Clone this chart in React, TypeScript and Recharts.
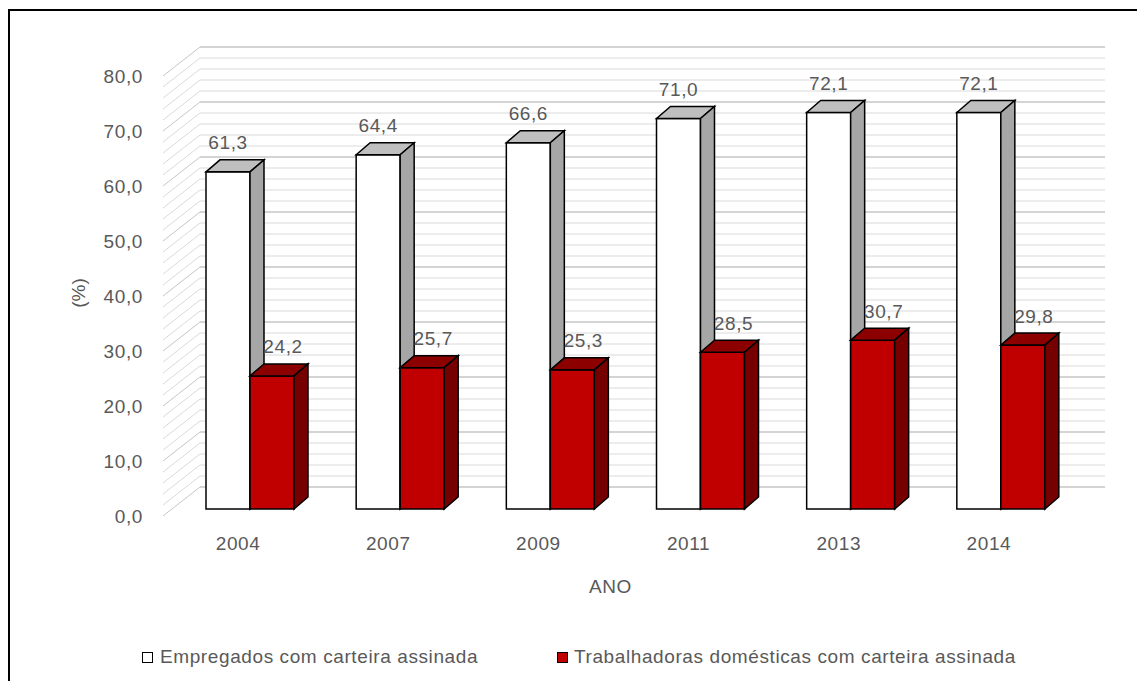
import { Bar, BarChart, CartesianGrid, Label, LabelList, XAxis, YAxis } from "recharts";

const anos = ["2004", "2007", "2009", "2011", "2013", "2014"];
const empregados = [61.3, 64.4, 66.6, 71.0, 72.1, 72.1];
const domesticas = [24.2, 25.7, 25.3, 28.5, 30.7, 29.8];

// back-wall lines every 2 points, labels every 10
const gridTicks = [
  0, 2, 4, 6, 8, 10, 12, 14, 16, 18, 20, 22, 24, 26, 28, 30, 32, 34, 36, 38, 40,
  42, 44, 46, 48, 50, 52, 54, 56, 58, 60, 62, 64, 66, 68, 70, 72, 74, 76, 78, 80,
];

const data = anos.map((ano, i) => ({
  ano,
  empregados: empregados[i],
  domesticas: domesticas[i],
}));

const FONT = '"Liberation Sans", Arial, sans-serif';
const TEXT = "#595959";
const DX = 14;
const DY = 12;

const fmt = (v: number) => v.toFixed(1).replace(".", ",");

function make3DBar(front: string, top: string, side: string) {
  return (props: any) => {
    const { x, y, width: w, height: h } = props;
    if (w == null || h == null) return <g />;
    const s = { stroke: "#000", strokeWidth: 1.5, strokeLinejoin: "miter" as const };
    return (
      <g>
        <rect x={x} y={y} width={w} height={h} fill={front} {...s} />
        <path
          d={`M${x},${y} L${x + DX},${y - DY} L${x + w + DX},${y - DY} L${x + w},${y} Z`}
          fill={top}
          {...s}
        />
        <path
          d={`M${x + w},${y} L${x + w + DX},${y - DY} L${x + w + DX},${y + h - DY} L${x + w},${y + h} Z`}
          fill={side}
          {...s}
        />
      </g>
    );
  };
}

const whiteBar = make3DBar("#ffffff", "#bfbfbf", "#a6a6a6");
const redBar = make3DBar("#c00000", "#8c0000", "#760000");

function valueLabel(shift: number) {
  return (props: any) => {
    const { x, y, width, value } = props;
    return (
      <text
        x={x + width / 2 + shift}
        y={y - 29}
        textAnchor="middle"
        dominantBaseline="central"
        fill={TEXT}
        fontSize={19}
        fontFamily={FONT}
        letterSpacing={0.6}
      >
        {fmt(value)}
      </text>
    );
  };
}

// front plane -> 3D walls (left side wall + back wall)
function WallLine(props: any) {
  const { x1, x2, y1, index } = props;
  const major = index % 5 === 0;
  const c = major ? "#c6c6c6" : "#dadada";
  return (
    <g key={props.key}>
      <line x1={x1 - 12} y1={y1 + 7} x2={x1 + 25} y2={y1 - 22} stroke={c} strokeWidth={1} />
      <line x1={x1 + 25} y1={y1 - 22} x2={x2 + 29} y2={y1 - 22} stroke={c} strokeWidth={major ? 1.5 : 1} />
    </g>
  );
}

function YTick(props: any) {
  const { x, y, payload } = props;
  if (payload.value % 10 !== 0) return <g />;
  return (
    <text
      x={x}
      y={y + 7}
      textAnchor="end"
      dominantBaseline="central"
      fill={TEXT}
      fontSize={19}
      fontFamily={FONT}
      letterSpacing={0.6}
    >
      {fmt(payload.value)}
    </text>
  );
}

function XTick(props: any) {
  const { x, y, payload } = props;
  return (
    <text
      x={x - 12}
      y={y + 34}
      textAnchor="middle"
      dominantBaseline="central"
      fill={TEXT}
      fontSize={19}
      fontFamily={FONT}
      letterSpacing={0.6}
    >
      {payload.value}
    </text>
  );
}

const legendItems = [
  { name: "Empregados com carteira assinada", color: "#ffffff", left: 134, textLeft: 152 },
  { name: "Trabalhadoras domésticas com carteira assinada", color: "#c00000", left: 549, textLeft: 566 },
];

export default function App() {
  return (
    <div style={{ position: "relative", width: 1137, height: 673, overflow: "hidden", background: "#fff" }}>
      <div
        style={{
          position: "absolute",
          top: 1,
          left: 0,
          width: 1300,
          height: 900,
          border: "2px solid #000",
          boxSizing: "border-box",
        }}
      />
      <div style={{ position: "absolute", top: 0, left: 0 }}>
        <BarChart
          width={1137}
          height={673}
          data={data}
          margin={{ top: 61, right: 69, bottom: 0, left: 107 }}
          barGap={0}
          barSize={44}
        >
          <CartesianGrid vertical={false} horizontal={(p: any) => <WallLine {...p} />} />
          <XAxis
            dataKey="ano"
            height={172}
            axisLine={false}
            tickLine={false}
            tickSize={0}
            tickMargin={0}
            tick={<XTick />}
            interval={0}
          >
            <Label
              content={({ viewBox }: any) => (
                <text
                  x={viewBox.x + viewBox.width / 2 - 15}
                  y={viewBox.y + 77}
                  textAnchor="middle"
                  dominantBaseline="central"
                  fill={TEXT}
                  fontSize={19}
                  fontFamily={FONT}
                  letterSpacing={0.6}
                >
                  ANO
                </text>
              )}
            />
          </XAxis>
          <YAxis
            width={60}
            domain={[0, 80]}
            ticks={gridTicks}
            interval={0}
            axisLine={false}
            tickLine={false}
            tickSize={0}
            tickMargin={32}
            tick={<YTick />}
          >
            <Label
              content={({ viewBox }: any) => {
                const cx = viewBox.x - 37;
                const cy = viewBox.y + viewBox.height / 2 + 4;
                return (
                  <text
                    x={cx}
                    y={cy}
                    transform={`rotate(-90, ${cx}, ${cy})`}
                    textAnchor="middle"
                    dominantBaseline="central"
                    fill={TEXT}
                    fontSize={19}
                    fontFamily={FONT}
                  >
                    (%)
                  </text>
                );
              }}
            />
          </YAxis>
          <Bar dataKey="empregados" shape={whiteBar} isAnimationActive={false}>
            <LabelList dataKey="empregados" content={valueLabel(0)} />
          </Bar>
          <Bar dataKey="domesticas" shape={redBar} isAnimationActive={false}>
            <LabelList dataKey="domesticas" content={valueLabel(11)} />
          </Bar>
        </BarChart>
      </div>
      {legendItems.map((it) => (
        <div key={it.name}>
          <div
            style={{
              position: "absolute",
              left: it.left,
              top: 644,
              width: 11,
              height: 11,
              background: it.color,
              border: "1px solid #000",
              boxSizing: "border-box",
            }}
          />
          <div
            style={{
              position: "absolute",
              left: it.textLeft,
              top: 638,
              lineHeight: "22px",
              fontSize: 19,
              fontFamily: FONT,
              letterSpacing: 0.6,
              color: TEXT,
              whiteSpace: "nowrap",
            }}
          >
            {it.name}
          </div>
        </div>
      ))}
    </div>
  );
}
